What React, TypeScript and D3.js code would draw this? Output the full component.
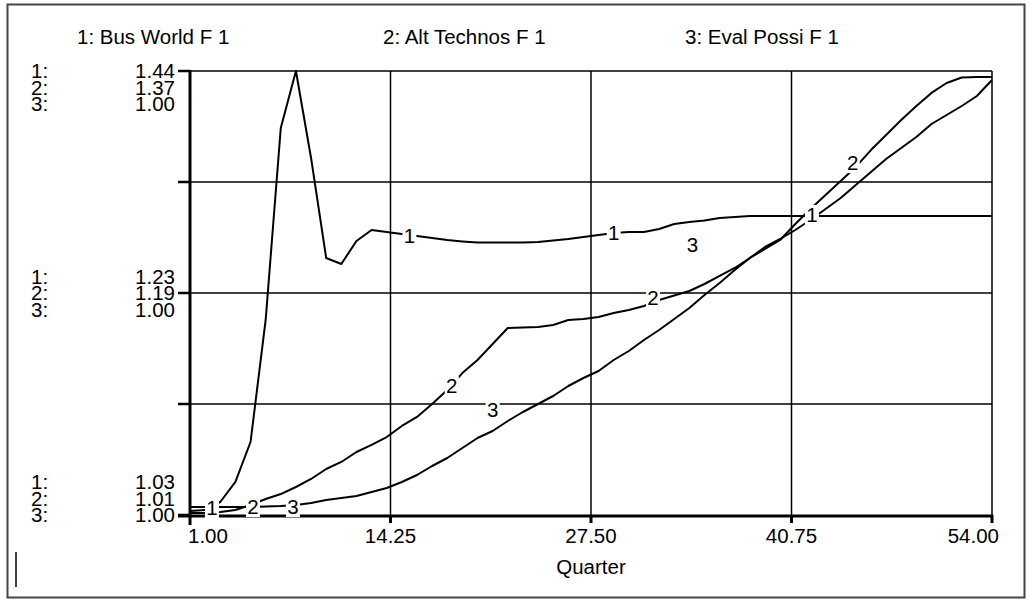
import * as d3 from 'd3'

// quarters on the x axis
const quarters = d3.range(1, 55)
const xTicks = [1, 14.25, 27.5, 40.75, 54]

// 1: Bus World F 1
const busWorld = [
  1.0337, 1.0346, 1.042, 1.0605, 1.0974, 1.2101, 1.3874, 1.44, 1.3597, 1.2673,
  1.2618, 1.283, 1.2932, 1.2913, 1.2895, 1.2876, 1.2858, 1.2839, 1.2826, 1.2816,
  1.2816, 1.2816, 1.2816, 1.2821, 1.2835, 1.2849, 1.2867, 1.2886, 1.2904, 1.2913,
  1.2913, 1.2941, 1.2987, 1.3006, 1.3019, 1.3043, 1.3052, 1.3061, 1.3061, 1.3061,
  1.3061, 1.3061, 1.3061, 1.3061, 1.3061, 1.3061, 1.3061, 1.3061, 1.3061, 1.3061,
  1.3061, 1.3061, 1.3061, 1.3061,
]
// 2: Alt Technos F 1
const altTechnos = [
  1.0116, 1.0116, 1.0124, 1.0141, 1.0181, 1.023, 1.027, 1.0327, 1.0392, 1.0473,
  1.053, 1.0611, 1.0668, 1.0732, 1.0822, 1.0895, 1.1, 1.1114, 1.1251, 1.1357,
  1.1486, 1.1616, 1.162, 1.1624, 1.1641, 1.1681, 1.1689, 1.1705, 1.1738, 1.1762,
  1.1795, 1.1843, 1.188, 1.1916, 1.1973, 1.2038, 1.2103, 1.2184, 1.2257, 1.233,
  1.2459, 1.2581, 1.2695, 1.2808, 1.2922, 1.3059, 1.3181, 1.3303, 1.3416, 1.3522,
  1.3603, 1.3647, 1.3651, 1.3651,
]
// 3: Eval Possi F 1
const evalPossi = [
  0.99572, 0.99572, 0.99572, 0.99572, 0.99572, 0.99573, 0.99574, 0.99576, 0.9958, 0.99586,
  0.9959, 0.99594, 0.99602, 0.9961, 0.99622, 0.99636, 0.99654, 0.9967, 0.9969, 0.9971,
  0.99724, 0.99744, 0.99762, 0.99778, 0.99794, 0.99814, 0.9983, 0.99844, 0.99866, 0.99884,
  0.99906, 0.99926, 0.99948, 0.9997, 0.99996, 1.0002, 1.00046, 1.0007, 1.00092, 1.00108,
  1.00126, 1.00146, 1.00168, 1.0019, 1.00216, 1.00242, 1.00268, 1.0029, 1.00312, 1.00338,
  1.00356, 1.00374, 1.00394, 1.00426,
]

const domain1 = [1.03, 1.44]
const domain2 = [1.01, 1.37]
const domain3 = [0.99556, 1.00444]

// scale labels, top / middle / bottom
const ticks1 = ['1.44', '1.23', '1.03']
const ticks2 = ['1.37', '1.19', '1.01']
const ticks3 = ['1.00', '1.00', '1.00']

const legendLabels = ['1: Bus World F 1', '2: Alt Technos F 1', '3: Eval Possi F 1']

// in-plot series labels: [quarter, value]
const marks1 = [[2.45, 1.0365], [15.5, 1.2876], [29, 1.2904], [42.1, 1.307]]
const marks2 = [[5.16, 1.0165], [18.3, 1.1146], [31.6, 1.1859], [44.8, 1.2954]]
const marks3 = [[7.8, 0.99572], [21, 0.99766], [34.2, 1.00096]]

const FONT = '"Liberation Sans", Arial, sans-serif'
const FS = 20.5

export default function App() {
  const W = 1028, H = 601
  const L = 190, R = 992, T = 71, B = 515

  const x = d3.scaleLinear().domain([1, 54]).range([L, R])
  const y1 = d3.scaleLinear().domain(domain1).range([B, T])
  const y2 = d3.scaleLinear().domain(domain2).range([B, T])
  const y3 = d3.scaleLinear().domain(domain3).range([B, T])
  const grid = d3.scaleLinear().domain([0, 4]).range([B, T])

  const series = [
    { data: busWorld, y: y1, marks: marks1, id: '1' },
    { data: altTechnos, y: y2, marks: marks2, id: '2' },
    { data: evalPossi, y: y3, marks: marks3, id: '3' },
  ]

  const lineFor = (yScale) => d3.line<number>().x((_, i) => x(quarters[i])).y(d => yScale(d))

  const legendX = [77, 383, 685]
  const rowGap = 16.5
  // label blocks: top (grid 4), middle (grid 2), bottom (grid 0)
  const blocks = [
    { g: 4, offs: [0, rowGap, rowGap * 2] },
    { g: 2, offs: [-rowGap, 0, rowGap] },
    { g: 0, offs: [-rowGap * 2, -rowGap, 0] },
  ]
  const tickSets = [ticks1, ticks2, ticks3]

  return (
    <>
      <style>{`body{margin:0;background:#fff}`}</style>
      <svg width={W} height={H} style={{ display: 'block', fontFamily: FONT }}>
        <rect x={0} y={0} width={W} height={H} fill="#fff" />
        <rect x={7.5} y={4.5} width={1017} height={593} fill="none" stroke="#444" strokeWidth={2} />

        {/* legend */}
        {legendLabels.map((t, i) => (
          <text key={t} x={legendX[i]} y={37} dy="0.35em" fontSize={FS} fill="#000">{t}</text>
        ))}

        {/* grid */}
        {[1, 2, 3, 4].map(k => (
          <line key={'h' + k} x1={L} x2={R} y1={grid(k)} y2={grid(k)} stroke="#000" strokeWidth={1.5} />
        ))}
        {xTicks.slice(1).map(v => (
          <line key={'v' + v} x1={x(v)} x2={x(v)} y1={T} y2={B} stroke="#000" strokeWidth={1.5} />
        ))}

        {/* left axis */}
        <line x1={L} x2={L} y1={T - 1} y2={B + 10} stroke="#000" strokeWidth={3} />
        {[0, 1, 2, 3, 4].map(k => (
          <line key={'lt' + k} x1={L - 12} x2={L} y1={grid(k)} y2={grid(k)} stroke="#000" strokeWidth={2.5} />
        ))}

        {/* bottom axis */}
        <line x1={L - 12} x2={R + 1} y1={B + 1} y2={B + 1} stroke="#000" strokeWidth={3} />
        {xTicks.slice(1).map(v => (
          <line key={'bt' + v} x1={x(v)} x2={x(v)} y1={B} y2={B + 8} stroke="#000" strokeWidth={3} />
        ))}

        {/* series */}
        {series.map(s => (
          <path key={'s' + s.id} d={lineFor(s.y)(s.data) || ''} fill="none" stroke="#000" strokeWidth={2} strokeLinejoin="round" />
        ))}

        {/* in-plot labels */}
        {series.map(s => s.marks.map(([q, v], j) => (
          <g key={'m' + s.id + j} transform={`translate(${x(q)},${s.y(v)})`}>
            <rect x={-7} y={-10} width={14} height={20} fill="#fff" />
            <text textAnchor="middle" dy="0.35em" fontSize={FS} fill="#000">{s.id}</text>
          </g>
        )))}

        {/* y axis labels */}
        {blocks.map((b, bi) => b.offs.map((o, r) => (
          <g key={'yl' + bi + r}>
            <text x={31} y={grid(b.g) + o} dy="0.35em" fontSize={FS} fill="#000">{`${r + 1}:`}</text>
            <text x={175} y={grid(b.g) + o} dy="0.35em" fontSize={FS} textAnchor="end" fill="#000">{tickSets[r][bi]}</text>
          </g>
        )))}

        {/* x axis labels */}
        {xTicks.map((v, i) => (
          <text key={'xl' + v} x={i === 0 ? x(v) - 2 : i === xTicks.length - 1 ? x(v) + 7 : x(v)} y={536} dy="0.35em"
            fontSize={FS} fill="#000" textAnchor={i === 0 ? 'start' : i === xTicks.length - 1 ? 'end' : 'middle'}>
            {v.toFixed(2)}
          </text>
        ))}
        <text x={(L + R) / 2} y={567} dy="0.35em" fontSize={FS} textAnchor="middle" fill="#000">Quarter</text>

        <line x1={16} x2={16} y1={552} y2={587} stroke="#000" strokeWidth={1.5} />
      </svg>
    </>
  )
}
